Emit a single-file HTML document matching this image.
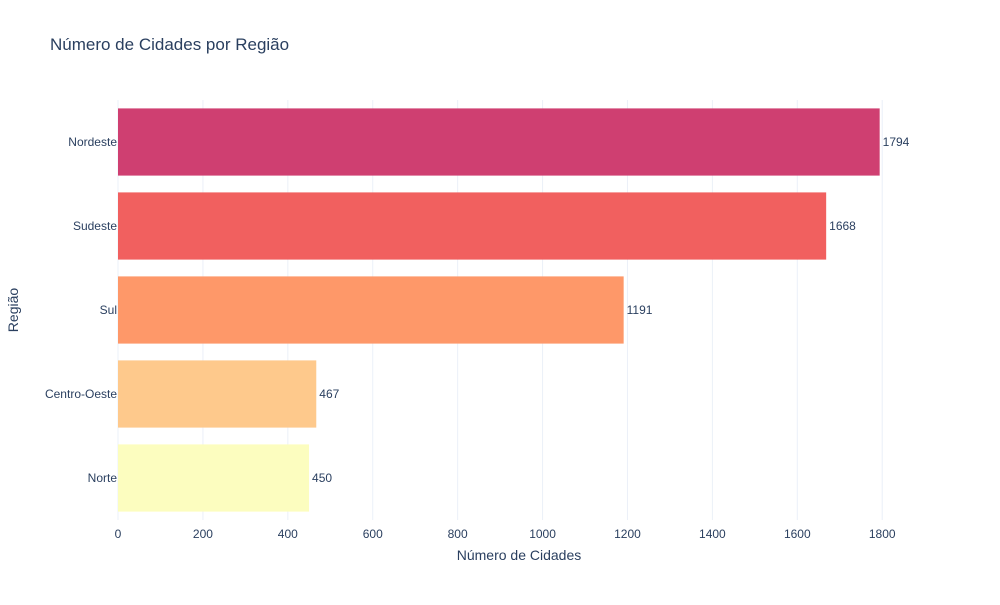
<!DOCTYPE html>
<html><head><meta charset="utf-8"><style>
body{margin:0;background:#fff;font-family:"Liberation Sans",Arial,sans-serif;}
svg text{font-family:"Liberation Sans",Arial,sans-serif;}
</style></head><body>
<svg id="chart" width="1000" height="600">
<text x="50" y="50" font-size="17" fill="#2a3f5f">Número de Cidades por Região</text>
<g id="grid"></g><g id="bars"></g><g id="labels"></g>
<text x="519" y="560" font-size="14" fill="#2a3f5f" text-anchor="middle">Número de Cidades</text>
<text transform="translate(18,310) rotate(-90)" font-size="14" fill="#2a3f5f" text-anchor="middle">Região</text>
</svg>
<script>
const categories=["Nordeste","Sudeste","Sul","Centro-Oeste","Norte"];
const values=[1794,1668,1191,467,450];
const colors=["#cf3f71","#f1605f","#fe9869","#fec98c","#fcfdbf"];
const xTicks=[0,200,400,600,800,1000,1200,1400,1600,1800];
const NS="http://www.w3.org/2000/svg";
const L=118,R=920,T=100,B=520,xMax=1889;
const x=v=>L+v/xMax*(R-L);
const band=(B-T)/categories.length;
const y=i=>T+i*band;
function mk(tag,attrs,parent){const e=document.createElementNS(NS,tag);for(const k in attrs)e.setAttribute(k,attrs[k]);document.getElementById(parent).appendChild(e);return e;}
xTicks.forEach(t=>{
 const g=mk("line",{x1:x(t),x2:x(t),y1:T,y2:B,stroke:t===0?"#fff":"#ebf0f8","stroke-width":1},"grid");
 
 
 const tx=mk("text",{x:x(t),y:B+18,"font-size":12,fill:"#2a3f5f","text-anchor":"middle"},"labels");
 tx.textContent=t;
 
 
});
categories.forEach((c,i)=>{
 const h=band*0.8;
 const r=mk("rect",{x:x(0),y:y(i)+band*0.1,width:x(values[i])-x(0),height:h,fill:colors[i]},"bars");
 
 
 const v=mk("text",{x:x(values[i])+3,y:y(i)+band/2+4,"font-size":12,fill:"#2a3f5f"},"labels");
 v.textContent=values[i];
 
 
 const cl=mk("text",{x:L-1,y:y(i)+band/2+4,"font-size":12,fill:"#2a3f5f","text-anchor":"end"},"labels");
 cl.textContent=c;
 
 
});
const ax=mk("line",{x1:L,x2:L,y1:T,y2:B,stroke:"#ebf0f8","stroke-width":1},"grid");


</script>
</body></html>
